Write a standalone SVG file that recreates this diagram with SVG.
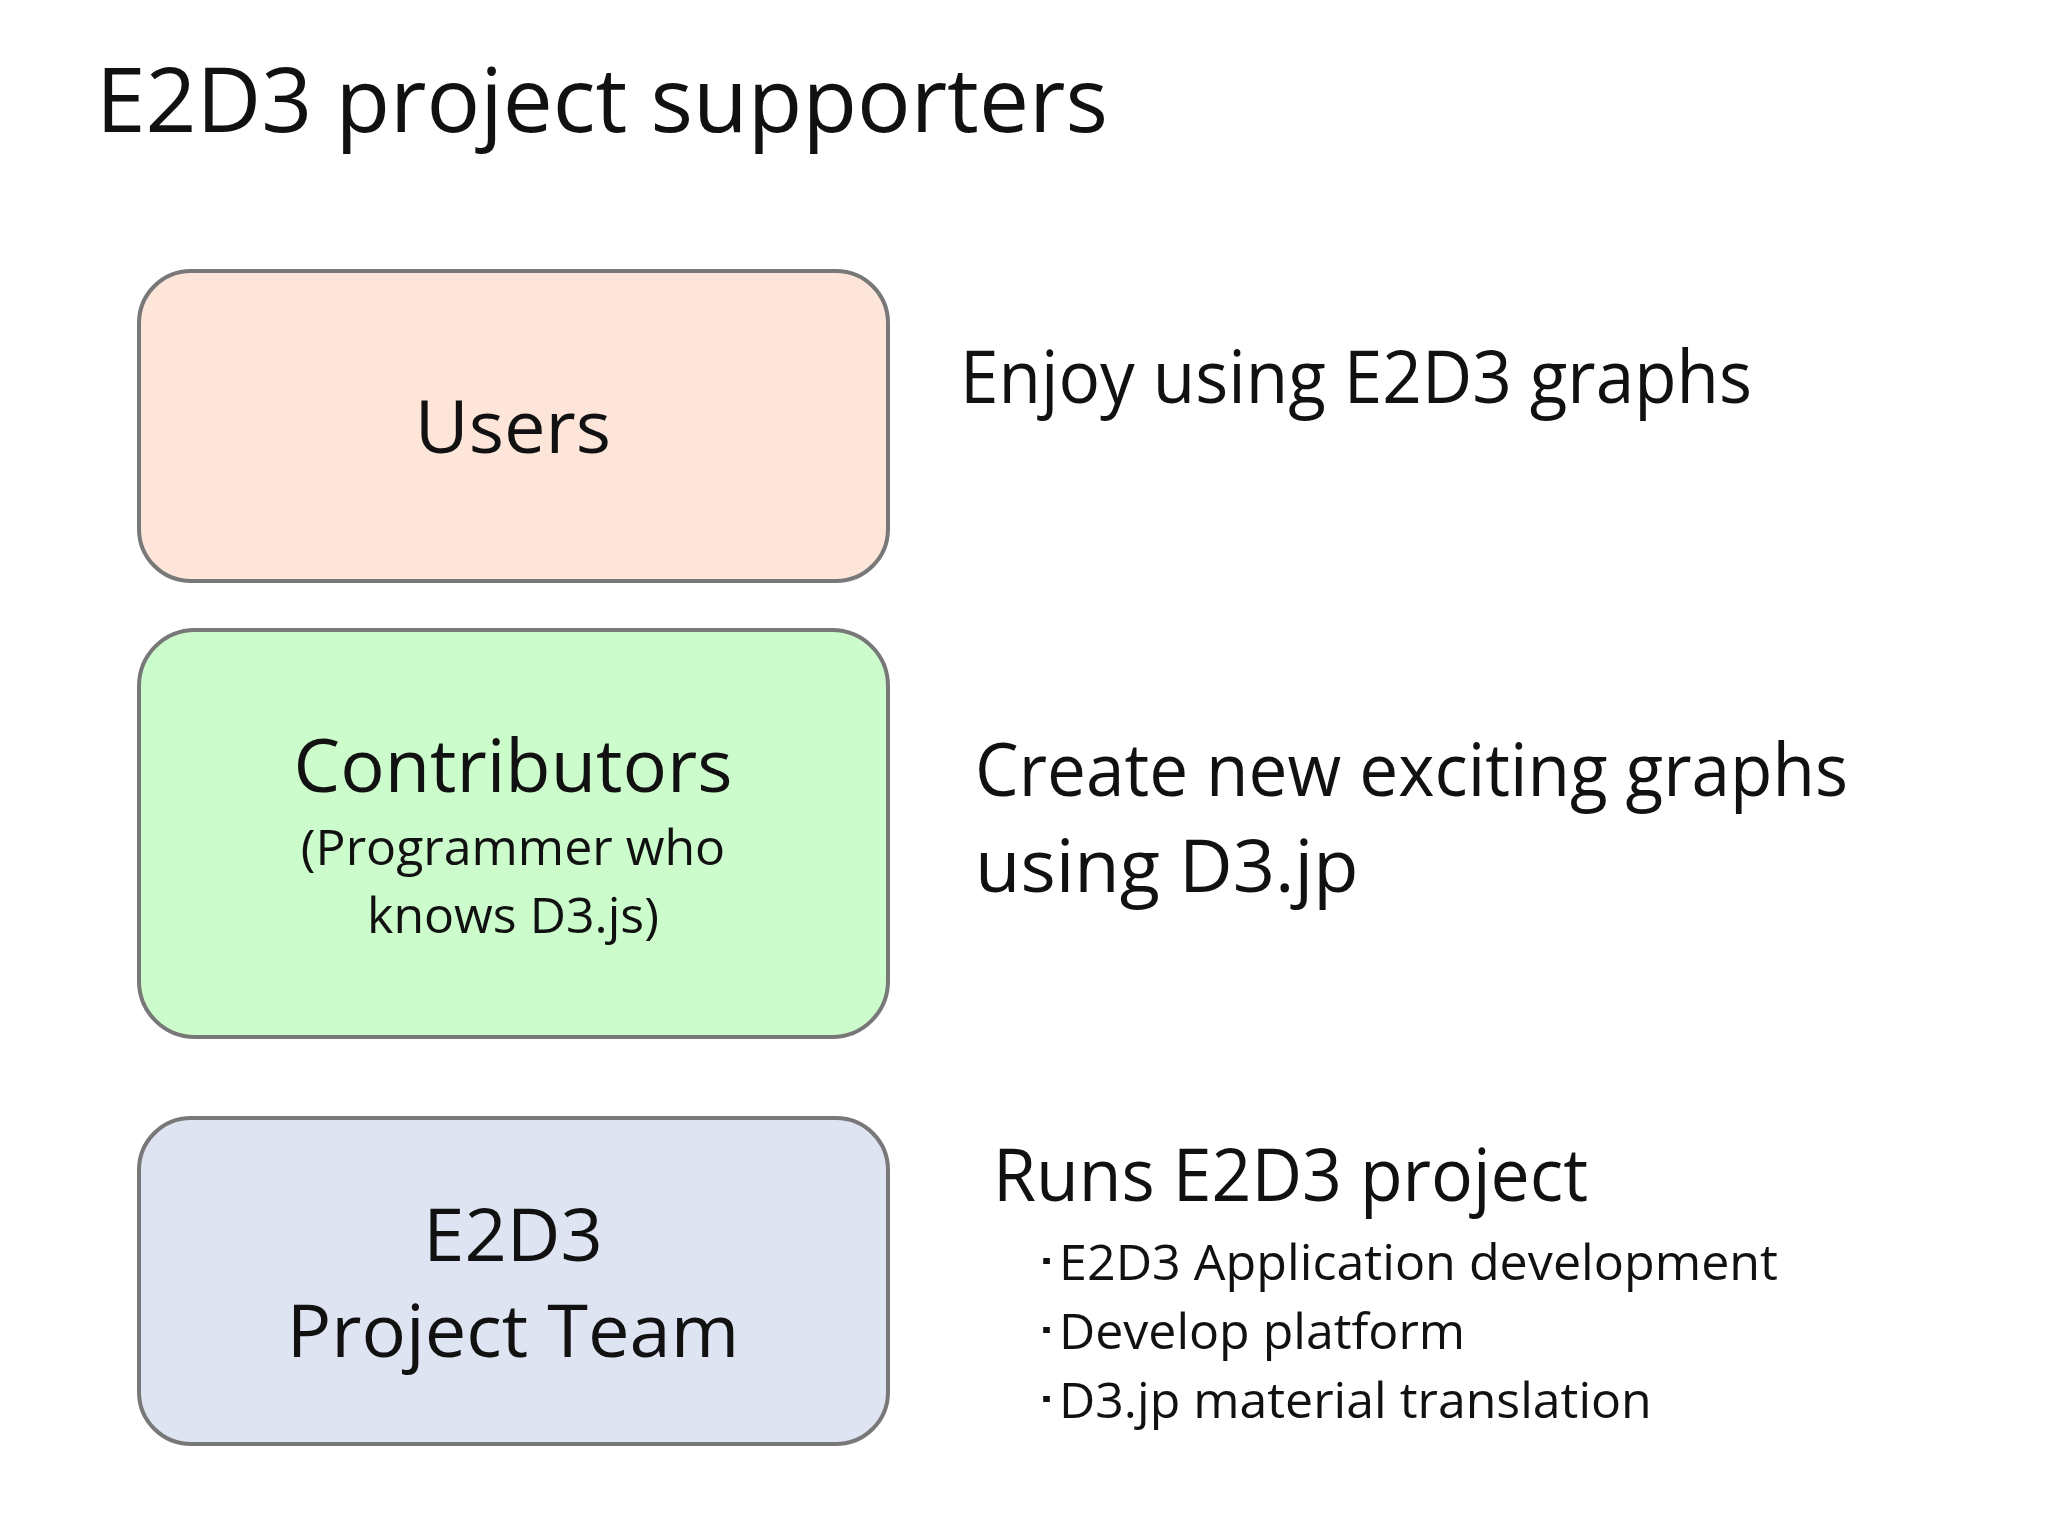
<svg xmlns="http://www.w3.org/2000/svg" width="2048" height="1536" viewBox="0 0 2048 1536">
<style>
text{font-family:"Open Sans","Liberation Sans",sans-serif;fill:#111}
.box{stroke:#787878;stroke-width:4}
.big{font-size:74px}
.mid{font-size:50px}
.c{text-anchor:middle}
</style>
<rect width="2048" height="1536" fill="#fff"/>
<text x="96" y="132" font-size="90" textLength="1012" lengthAdjust="spacingAndGlyphs">E2D3 project supporters</text>
<g id="users">
<rect class="box" x="139" y="271" width="749" height="310" rx="52" fill="#fde6d9"/>
<text class="big c" x="513" y="453">Users</text>
</g>
<g id="contributors">
<rect class="box" x="139" y="630" width="749" height="407" rx="56" fill="#ccfccc"/>
<text class="big c" x="513" y="792">Contributors</text>
<text class="mid c" x="513" y="865">(Programmer who</text>
<text class="mid c" x="513" y="933">knows D3.js)</text>
</g>
<g id="team">
<rect class="box" x="139" y="1118" width="749" height="326" rx="52" fill="#dfe4f2"/>
<text class="big c" x="513" y="1261">E2D3</text>
<text class="big c" x="513" y="1357">Project Team</text>
</g>
<g id="descriptions">
<text class="big" x="960" y="403" textLength="792" lengthAdjust="spacingAndGlyphs">Enjoy using E2D3 graphs</text>
<text class="big" x="975" y="796" textLength="873" lengthAdjust="spacingAndGlyphs">Create new exciting graphs</text>
<text class="big" x="975" y="892">using D3.jp</text>
<text class="big" x="993" y="1201" textLength="595" lengthAdjust="spacingAndGlyphs">Runs E2D3 project</text>
<text class="mid" x="1034" y="1280" textLength="744" lengthAdjust="spacingAndGlyphs">･E2D3 Application development</text>
<text class="mid" x="1034" y="1349">･Develop platform</text>
<text class="mid" x="1034" y="1418">･D3.jp material translation</text>
</g>
<g id="connectors"/>
</svg>
